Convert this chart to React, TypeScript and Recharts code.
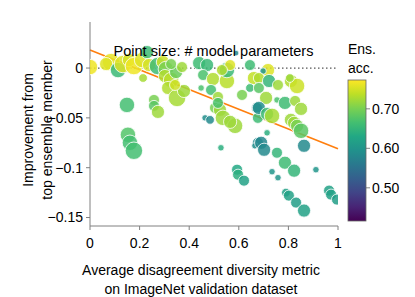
import React from 'react';
import { ScatterChart, Scatter, XAxis, YAxis, ZAxis, ReferenceLine, Cell } from 'recharts';

// Average disagreement diversity metric (x)
const diversity = [
  0.0, 0.085, 0.065, 0.113, 0.133, 0.157, 0.177, 0.21, 0.23, 0.238,
  0.214, 0.274, 0.294, 0.306, 0.149, 0.258, 0.258, 0.274, 0.153, 0.161,
  0.177, 0.302, 0.327, 0.347, 0.315, 0.351, 0.379, 0.343, 0.371, 0.327,
  0.44, 0.472, 0.456, 0.496, 0.448, 0.488, 0.516, 0.504, 0.524, 0.552,
  0.552, 0.565, 0.532, 0.516, 0.464, 0.484, 0.536, 0.585, 0.565, 0.528,
  0.593, 0.597, 0.621, 0.645, 0.661, 0.645, 0.673, 0.677, 0.665, 0.677,
  0.589, 0.613, 0.718, 0.698, 0.681, 0.722, 0.681, 0.81, 0.835, 0.71,
  0.754, 0.786, 0.827, 0.851, 0.681, 0.714, 0.734, 0.81, 0.823, 0.835,
  0.851, 0.863, 0.69, 0.702, 0.714, 0.754, 0.786, 0.823, 0.734, 0.758,
  0.911, 0.79, 0.802, 0.831, 0.863, 0.964, 0.972, 0.996, 0.806, 0.758,
];
// Improvement from top ensemble member (y)
const improvement = [
  0.001, 0.006, 0.004, -0.002, 0.004, 0.008, 0.002, 0.008, 0.016, 0.003,
  -0.01, 0.002, 0.006, -0.001, -0.037, -0.032, -0.038, -0.044, -0.067, -0.075,
  -0.083, -0.008, -0.012, -0.004, -0.02, -0.03, -0.023, -0.017, 0.001, 0.004,
  0.005, 0.003, -0.007, -0.011, -0.02, -0.022, -0.029, -0.04, -0.042, -0.013,
  -0.002, 0.003, -0.002, -0.035, -0.05, -0.052, -0.05, -0.058, -0.054, -0.08,
  -0.102, -0.107, -0.113, 0.003, -0.01, -0.02, -0.04, -0.075, -0.078, -0.05,
  0.015, -0.027, -0.002, -0.003, -0.01, -0.013, -0.02, -0.013, -0.018, -0.03,
  -0.032, -0.035, -0.033, -0.041, -0.04, -0.046, -0.048, -0.052, -0.055, -0.058,
  -0.063, -0.078, -0.075, -0.082, -0.065, -0.085, -0.095, -0.103, -0.104, -0.11,
  -0.102, -0.125, -0.128, -0.135, -0.143, -0.123, -0.127, -0.132, -0.01, -0.017,
];
// Number of model parameters (M) -> point size
const paramsM = [
  69, 88, 50, 69, 88, 50, 88, 69, 50, 50,
  22, 88, 50, 69, 69, 35, 35, 50, 69, 69,
  88, 50, 69, 50, 50, 88, 50, 35, 35, 35,
  50, 50, 35, 50, 12, 35, 35, 35, 50, 69,
  69, 35, 35, 35, 12, 22, 69, 69, 50, 12,
  35, 35, 35, 35, 50, 22, 35, 35, 12, 35,
  9, 35, 50, 12, 35, 50, 35, 50, 69, 50,
  12, 50, 35, 50, 50, 50, 69, 50, 50, 50,
  69, 50, 50, 50, 12, 35, 50, 50, 12, 12,
  12, 22, 35, 35, 50, 35, 35, 35, 22, 35,
];
// Ensemble accuracy -> colour
const ensAcc = [
  0.765, 0.76, 0.755, 0.655, 0.755, 0.75, 0.765, 0.755, 0.66, 0.75,
  0.725, 0.66, 0.745, 0.7, 0.665, 0.7, 0.68, 0.72, 0.675, 0.665,
  0.665, 0.73, 0.735, 0.69, 0.73, 0.725, 0.72, 0.745, 0.72, 0.7,
  0.66, 0.655, 0.67, 0.73, 0.67, 0.665, 0.72, 0.7, 0.72, 0.735,
  0.655, 0.755, 0.73, 0.67, 0.59, 0.585, 0.72, 0.72, 0.72, 0.64,
  0.63, 0.64, 0.62, 0.66, 0.74, 0.66, 0.58, 0.58, 0.59, 0.66,
  0.58, 0.7, 0.755, 0.6, 0.73, 0.65, 0.68, 0.73, 0.745, 0.72,
  0.67, 0.66, 0.72, 0.72, 0.59, 0.66, 0.725, 0.72, 0.72, 0.7,
  0.68, 0.585, 0.58, 0.585, 0.64, 0.65, 0.66, 0.65, 0.6, 0.6,
  0.6, 0.62, 0.62, 0.615, 0.62, 0.62, 0.62, 0.615, 0.72, 0.72,
];

const xTicks = [0, 0.2, 0.4, 0.6, 0.8, 1];
const yTicks = [0, -0.05, -0.1, -0.15];
const cbTicks = [0.5, 0.6, 0.7];
const fitX = [0, 1];
const fitY = [0.018, -0.081];
const accRange = [0.416, 0.773];

const VIRIDIS = ['#440154', '#482475', '#414487', '#355f8d', '#2a788e', '#21918c', '#22a884', '#44bf70', '#7ad151', '#bddf26', '#fde725'];

const hex = (h: string) => [1, 3, 5].map((i) => parseInt(h.slice(i, i + 2), 16));
function viridis(v: number) {
  let t = (v - accRange[0]) / (accRange[1] - accRange[0]);
  t = Math.max(0, Math.min(1, t));
  const p = t * (VIRIDIS.length - 1);
  const i = Math.min(Math.floor(p), VIRIDIS.length - 2);
  const f = p - i;
  const a = hex(VIRIDIS[i]);
  const b = hex(VIRIDIS[i + 1]);
  const c = a.map((av, k) => Math.round(av + (b[k] - av) * f));
  return `rgb(${c[0]},${c[1]},${c[2]})`;
}

const points = diversity.map((d, i) => ({ x: d, y: improvement[i], z: paramsM[i], acc: ensAcc[i] }));

const FONT = '"Liberation Sans", Arial, sans-serif';
const fmtY = (v: number) => (v === 0 ? '0' : '\u2212' + Math.abs(v));

// Colorbar geometry
const CB = { x: 348, y: 80, w: 18, h: 141 };
const cbY = (v: number) => CB.y + CB.h - ((v - accRange[0]) / (accRange[1] - accRange[0])) * CB.h;

export default function App() {
  return (
    <div style={{ position: 'absolute', left: 0, top: 0, width: 415, height: 297, fontFamily: FONT, background: '#fff' }}>
      <ScatterChart width={415} height={297} margin={{ top: 22, right: 77, bottom: 41, left: 30 }}>
        <XAxis
          type="number"
          dataKey="x"
          domain={[0, 1]}
          ticks={xTicks}
          allowDataOverflow
          height={30}
          tickSize={4}
          tickMargin={8}
          stroke="#808080"
          tick={{ fill: '#000', fontSize: 14, fontFamily: FONT }}
          tickFormatter={(v: number) => String(v)}
        />
        <YAxis
          type="number"
          dataKey="y"
          domain={[-0.1585, 0.0462]}
          ticks={yTicks}
          allowDataOverflow
          width={60}
          tickSize={4}
          tickMargin={3}
          stroke="#808080"
          tick={{ fill: '#000', fontSize: 14, fontFamily: FONT }}
          tickFormatter={fmtY}
        />
        <ZAxis type="number" dataKey="z" domain={[0, 90]} range={[0, 245]} />
        <Scatter data={points} isAnimationActive={false} stroke="#ffffff" strokeWidth={0.8} fillOpacity={0.85}>
          {points.map((p, i) => (
            <Cell key={i} fill={viridis(p.acc)} />
          ))}
        </Scatter>
        <ReferenceLine y={0} stroke="#555555" strokeWidth={1.2} strokeDasharray="1.5 2.5" />
        <ReferenceLine
          segment={[{ x: fitX[0], y: fitY[0] }, { x: fitX[1], y: fitY[1] }]}
          stroke="#ff7f0e"
          strokeWidth={1.6}
        />
      </ScatterChart>
      <svg width={415} height={297} style={{ position: 'absolute', left: 0, top: 0, pointerEvents: 'none' }} fontFamily={FONT}>
        <defs>
          <linearGradient id="viridisGrad" x1="0" y1="1" x2="0" y2="0">
            {VIRIDIS.map((c, i) => (
              <stop key={i} offset={i / (VIRIDIS.length - 1)} stopColor={c} />
            ))}
          </linearGradient>
        </defs>
        <text x={213.5} y={56} fontSize={14.5} textAnchor="middle" fill="#000">Point size: # model parameters</text>
        <text x={33} y={130} transform="rotate(-90 33 130)" fontSize={14} textAnchor="middle" fill="#000">
          <tspan x={33} dy={0}>Improvement from</tspan>
          <tspan x={33} dy={19}>top ensemble member</tspan>
        </text>
        <text x={201} y={275} fontSize={14} textAnchor="middle" fill="#000">
          <tspan x={201} dy={0}>Average disagreement diversity metric</tspan>
          <tspan x={201} dy={19}>on ImageNet validation dataset</tspan>
        </text>
        <text x={348} y={54} fontSize={14} fill="#000">Ens.</text>
        <text x={348} y={73} fontSize={14} fill="#000">acc.</text>
        <rect x={CB.x} y={CB.y} width={CB.w} height={CB.h} fill="url(#viridisGrad)" stroke="#666" strokeWidth={0.8} />
        {cbTicks.map((v) => (
          <g key={v}>
            <line x1={CB.x + CB.w} x2={CB.x + CB.w + 4} y1={cbY(v)} y2={cbY(v)} stroke="#666" strokeWidth={0.8} />
            <text x={CB.x + CB.w + 6} y={cbY(v)} dy="0.35em" fontSize={14} fill="#000">{v.toFixed(2)}</text>
          </g>
        ))}
      </svg>
    </div>
  );
}
